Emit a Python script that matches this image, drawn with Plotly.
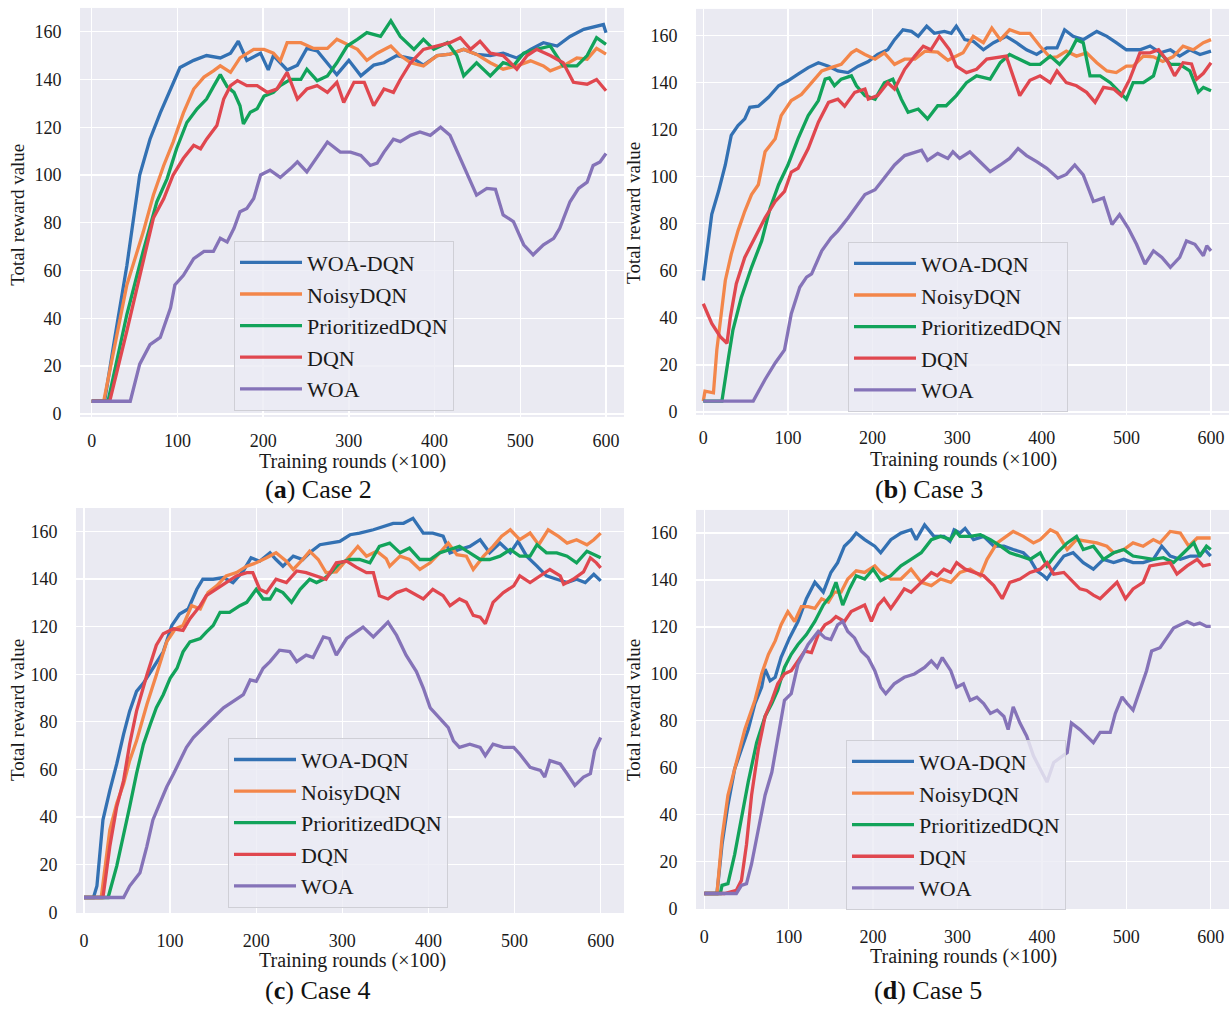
import plotly.graph_objects as go

# Reference canvas 1229x1019 (page margin removed via post_script below)
OFF = 0
W, H = 1229, 1019

SERIES = ["WOA-DQN", "NoisyDQN", "PrioritizedDQN", "DQN", "WOA"]
COLORS = ["#3371B3", "#F3864A", "#12A35A", "#E0474F", "#8573B8"]
X_TICKS = [0, 100, 200, 300, 400, 500, 600]
Y_TICKS = [0, 20, 40, 60, 80, 100, 120, 140, 160]
CAPTIONS = [("a", "Case 2"), ("b", "Case 3"), ("c", "Case 4"), ("d", "Case 5")]
X_TITLE = "Training rounds (×100)"
Y_TITLE = "Total reward value"

# ---------------- (a) Case 2 : (training round, reward) ----------------
A_WOADQN = [(0,5.3),(15,5.3),(27,32),(41,62),(56,100),(68,115),(80,126),(92,136),(103,145),(119,148),(134,150),(150,149),(162,151),(171,156),(175,153),(181,148),(197,151),(206,144),(212,150),(228,144),(240,146),(251,153),(263,152),(275,147),(286,142),(300,148),(314,141.5),(329,146),(341,147),(356,150),(376,148.5),(387,146),(403,150),(418,150.6),(434,152.6),(449,150.5),(465,150),(480,151),(496,149),(512,152.6),(527,155.4),(543,154),(558,158),(574,161),(589,162.4),(597,163),(600,159.6)]
A_NOISY = [(0,5.3),(14,5.3),(41,54),(60,76),(72,91.6),(84,104),(95,113.8),(107,126),(119,136),(131,141),(142,143.6),(150,145.7),(162,143),(173,149),(189,152.6),(201,152.6),(212,151),(220,147.8),(228,155.4),(244,155.4),(259,153),(275,153),(286,156.8),(294,155.4),(310,152.6),(321,148),(333,151),(349,154),(360,150),(372,147),(387,145.7),(403,150),(418,150.6),(434,152.6),(449,150.5),(465,147),(480,144.3),(496,145.7),(512,147.8),(527,145.7),(535,143.6),(550,145.7),(566,149),(578,148.5),(589,153),(600,150.6)]
A_PRIO = [(0,5.3),(19,5.3),(41,41.6),(60,68),(76,88.8),(88,98.5),(99,111),(111,122),(123,127.7),(134,131.8),(142,137),(150,142),(158,137),(166,134.6),(173,129),(177,121.4),(185,126.3),(193,127.7),(201,133),(212,134.6),(220,137.4),(232,140),(244,140),(251,144.3),(263,139.5),(275,141.5),(286,147),(298,154),(310,156.8),(321,159.6),(337,158),(349,164.5),(360,158),(376,152.6),(387,156.8),(399,152.6),(415,155.4),(426,150),(434,141.5),(449,147),(465,141.5),(480,147),(492,145.7),(504,151),(519,152.6),(535,154),(550,145.7),(566,145.7),(578,150),(589,157.5),(600,154.7)]
A_DQN = [(0,5.3),(21,5.3),(41,34.7),(56,58),(72,82),(84,90),(95,100),(107,107),(119,112.4),(127,111),(134,115),(146,120.7),(154,131.8),(162,137.4),(170,139.5),(181,137.4),(193,137.4),(205,134.6),(216,136),(228,143),(240,131.8),(251,136),(263,137.4),(275,134.6),(286,138.8),(294,130.4),(306,138.8),(318,138.8),(329,129),(341,136),(352,134.6),(360,140),(372,147),(387,152.6),(403,154),(418,155.4),(430,157.5),(442,152.6),(453,156),(465,151),(480,150),(496,144.3),(508,150),(519,152.6),(535,150),(550,147),(562,138.8),(578,138),(589,140),(600,135.3)]
A_WOA = [(0,5.3),(45,5.3),(56,20.8),(68,29),(80,32),(92,44.4),(97,54),(107,58),(119,65),(131,68),(142,68),(150,73.5),(158,72),(166,77.7),(173,84.6),(181,86),(189,90.2),(197,100),(208,102),(220,99),(232,102.7),(240,105.5),(251,101.3),(263,107.5),(275,113.8),(290,109.6),(302,109.6),(314,108.2),(325,104),(333,105),(341,109.6),(352,115),(360,114),(372,116.6),(383,118),(395,116.6),(407,120),(418,116.6),(430,106.9),(438,100),(449,91.6),(461,94.4),(471,94),(480,83.3),(492,80.5),(504,70.8),(515,66.6),(527,70.8),(539,73.5),(546,77.7),(558,88.8),(568,94.4),(578,97),(585,104),(593,105.5),(600,109)]

# ---------------- (b) Case 3 ----------------
B_WOADQN = [(0,55.9),(6,71.3),(10,84),(18,93.8),(26,105),(33,117.6),(41,121.8),(49,124.6),(55,129.5),(65,130),(77,133.8),(89,138.7),(100,140.8),(112,143.6),(124,146.4),(136,148.5),(148,147),(159,145),(171,144.3),(183,147),(195,149),(206,152),(218,154),(226,158.3),(236,162.5),(246,161.8),(254,159.7),(264,164),(273,161),(285,161.8),(293,161),(299,164),(309,158.3),(319,157.6),(331,154),(343,157),(358,159.7),(370,157),(382,154),(394,152),(406,154.8),(418,154.8),(427,162.5),(437,159.7),(449,158.3),(465,161.8),(477,159.7),(488,157),(500,154),(516,154),(528,155.6),(540,152.7),(552,154),(563,151.3),(575,154),(587,152),(600,153.4)]
B_NOISY = [(0,4.6),(2,8.8),(12,8.1),(16,26.4),(26,55.9),(33,67),(41,77),(49,85.3),(57,92.4),(65,96.6),(73,110.6),(85,116.2),(92,126),(104,132.4),(116,135),(128,140),(140,145),(151,146.4),(163,147.8),(175,152.7),(181,154),(191,152),(203,150),(214,152.7),(226,147.8),(238,150),(250,150),(262,153.4),(277,153),(289,149.5),(295,150.7),(307,152.7),(319,159.7),(331,157),(341,163.2),(351,158.3),(362,162.5),(374,161),(386,161),(398,155.5),(410,150.7),(418,151),(429,153.4),(441,151.3),(453,152.7),(465,148.5),(477,145),(488,144.3),(500,147),(508,147),(520,151.3),(532,151),(543,149),(555,151),(567,155.5),(579,154),(591,157),(600,158.3)]
B_PRIO = [(0,4.6),(22,4.6),(30,23.6),(35,34.8),(45,48.8),(57,61.5),(69,72.7),(79,86.7),(89,96.6),(100,105),(112,116.2),(124,126),(136,132.4),(144,141.5),(149,142),(155,138.7),(163,141.5),(175,142.9),(181,138.7),(191,134.5),(203,133),(214,140),(224,141.5),(234,133),(242,127.4),(254,128.8),(265,124.6),(277,130.2),(287,130.2),(299,134.5),(311,140),(323,142.9),(339,141.5),(351,148.5),(362,152),(374,150),(386,147.8),(398,147.8),(410,151.3),(421,147.8),(433,152.7),(441,158.3),(449,157),(457,142.9),(469,142.9),(481,140),(492,136),(500,133),(508,140),(520,140),(532,142.9),(540,152.7),(552,147.8),(563,147.8),(575,145),(585,136),(591,138),(600,136.6)]
B_DQN = [(0,46),(10,37.6),(20,32),(28,29.2),(32,40.4),(39,54.5),(49,65.7),(61,74),(73,82.5),(85,89.5),(96,93.8),(104,102),(112,103.6),(124,112),(136,123.2),(148,131.6),(159,133),(167,130),(179,135.9),(191,137.3),(195,133),(206,134.5),(218,140),(226,137.3),(238,145.7),(250,151.3),(260,155.5),(269,154),(279,159.7),(291,154),(299,147),(311,144.3),(323,145.7),(335,150),(347,150.5),(358,151.3),(366,142.9),(374,134.5),(386,141),(398,142.9),(410,140),(418,145),(429,140),(441,138.7),(453,135.9),(463,131.6),(473,138),(485,137.3),(494,134.5),(504,141.5),(516,152.7),(528,152.7),(538,154),(548,149.5),(557,142.9),(567,148.5),(577,148),(583,141.5),(591,144),(600,148.5)]
B_WOA = [(0,4.6),(59,4.6),(73,13.8),(85,20.8),(96,26.4),(104,41.8),(114,53),(122,57.3),(128,58.7),(140,68.5),(151,74),(159,77),(171,82.5),(179,86.7),(191,92.4),(203,94.5),(214,99.4),(226,105),(238,109),(250,110.6),(258,111.3),(265,107),(277,109.9),(289,107.8),(295,110.6),(303,107.8),(315,110.6),(327,106.4),(339,102.2),(351,105),(362,107.8),(372,112),(382,109),(394,106.4),(406,103.6),(419,99.4),(429,101),(439,105),(449,100.8),(455,95.2),(461,89.5),(473,91),(483,79.7),(492,83.9),(502,78.3),(512,71.3),(522,62.9),(532,68.5),(542,65.7),(552,61.5),(563,65.7),(571,72.7),(581,71.3),(591,66.4),(595,70.6),(600,68.5)]

# ---------------- (c) Case 4 ----------------
C_WOADQN = [(0,6.2),(11,6.2),(15,11),(22,38.8),(30,51.2),(38,62.3),(46,74.8),(53,84.5),(61,92.8),(69,96.3),(80,102.5),(92,109.4),(102,120.5),(111,125.3),(121,127.4),(131,135.7),(138,139.9),(150,139.9),(162,140.6),(173,138.5),(185,143.4),(194,148.9),(204,147.5),(216,151),(223,148.2),(231,145.4),(243,149.6),(254,148.2),(262,151),(274,154.4),(285,155.1),(297,155.8),(309,158.6),(320,159.3),(336,160.7),(347,162),(359,163.4),(371,163.4),(382,165.5),(394,159.3),(405,159.3),(417,158),(425,151),(436,152.4),(448,153.7),(460,156.5),(471,151),(483,155.1),(495,151),(504,155.8),(514,149.6),(526,145.4),(537,141.3),(549,139.9),(561,138.5),(572,139.9),(582,138.5),(592,142),(600,139.2)]
C_NOISY = [(0,6.2),(20,6.2),(30,34.6),(38,45.7),(46,54),(53,63.7),(61,72),(73,87.3),(84,99.7),(96,113.6),(106,119.1),(115,120.5),(125,128.8),(135,127.4),(144,134.3),(154,137.1),(165,141.3),(177,142.7),(189,145.4),(200,146.8),(212,148.9),(223,151),(235,147.5),(243,144),(254,148.2),(262,151.7),(272,148.2),(281,142.7),(293,143),(305,148.2),(318,153.7),(328,149.6),(340,151.7),(351,148.5),(355,145.4),(367,149.6),(378,148.2),(390,144),(402,146.8),(413,151),(423,155.1),(433,150.2),(444,149.6),(452,144),(464,149.6),(475,153.7),(485,158),(495,160.7),(506,156.5),(518,159.3),(528,154.4),(539,160.7),(551,157.9),(561,155.1),(572,156.5),(584,154.4),(592,156.5),(600,159.3)]
C_PRIO = [(0,6.2),(28,6.2),(38,19.4),(46,31.9),(53,44.3),(61,58.2),(69,70.6),(77,79),(84,85.9),(92,91.4),(100,98.3),(108,102.5),(115,109.4),(123,113.6),(135,115),(142,117.7),(150,120.5),(158,126),(169,126),(181,128.8),(189,130.2),(200,135.7),(208,131.6),(216,131.6),(223,135.7),(231,134.3),(241,130.2),(251,135.7),(262,139.9),(270,138.5),(278,139.9),(285,142),(297,146.8),(309,148.2),(320,148.2),(332,146.8),(343,153.7),(355,155.1),(367,151),(378,153),(390,148.2),(402,148.2),(413,151),(425,152.4),(436,153.7),(448,151),(460,148.2),(471,148.2),(483,149.6),(495,152.4),(506,149.6),(518,149.6),(526,154.4),(537,151),(549,151),(561,149.6),(572,146.8),(584,151.7),(592,150.2),(600,148.9)]
C_DQN = [(0,6.2),(22,6.2),(30,27.7),(38,44.3),(46,55.4),(53,70.6),(61,84.5),(73,99.7),(84,112.2),(92,117),(104,119.1),(115,118.4),(123,123.3),(135,128.8),(142,133),(154,135.7),(165,138.5),(177,141.3),(189,142.7),(196,142.7),(204,135.7),(212,134.3),(223,139.9),(235,138.5),(247,143.4),(258,142.7),(270,141.3),(281,139.9),(293,146.8),(305,147.5),(316,145),(328,142.7),(336,142.7),(343,133),(353,131.6),(363,134.3),(374,135.7),(386,133),(394,131.6),(405,135.7),(417,133),(425,128.8),(436,131.6),(444,130.2),(452,124.7),(460,124),(466,121.2),(475,130.2),(487,134.3),(499,137.1),(506,141.3),(518,138.5),(530,141.3),(541,144),(553,141.3),(557,137.8),(568,139.9),(580,143),(588,148.9),(595,146.8),(600,144.7)]
C_WOA = [(0,6.2),(46,6.2),(53,11),(65,16.6),(73,27.7),(80,38.8),(88,45.7),(96,52.6),(104,58.2),(111,63.7),(119,69.3),(127,73.4),(138,77.6),(150,81.7),(162,85.9),(173,88.6),(185,91.4),(193,97.6),(200,97),(208,102.5),(216,105.3),(227,110.1),(239,109.5),(247,105.3),(258,108),(266,107),(278,115.7),(285,115),(293,108),(305,115),(316,117.7),(324,119.8),(336,115.7),(343,118.4),(353,121.9),(363,116.3),(374,108),(386,101.1),(394,94.2),(402,85.9),(413,81.7),(423,77.6),(429,72),(436,69.3),(448,70.6),(460,69.3),(466,65.8),(475,70.6),(487,69.3),(499,69.3),(506,66.5),(518,60.9),(530,59.6),(535,56.8),(541,63.7),(553,62.3),(561,58.2),(570,53.3),(580,56.8),(588,58.2),(593,67.9),(600,73.4)]

# ---------------- (d) Case 5 ----------------
D_WOADQN = [(0,6.3),(15,6.3),(21,27.2),(28,44),(36,59.4),(44,67.8),(52,76.2),(60,87.3),(68,94.3),(72,102),(78,97),(84,98.5),(91,107),(101,115.3),(111,122.3),(121,132),(131,139),(141,134.8),(150,143.2),(158,147.4),(166,154.4),(174,157.2),(180,160),(190,157.2),(202,154.4),(209,151.6),(221,157.2),(233,160),(245,161.4),(251,157.2),(261,163.5),(272,158.6),(284,158.6),(291,156.5),(296,161.4),(303,160),(309,162),(319,157.2),(331,158.6),(343,154.4),(355,154.4),(366,153),(378,151.6),(386,148.8),(394,143.9),(402,141.8),(406,140.4),(414,144.6),(426,150.2),(437,151.6),(449,147.4),(461,144.6),(473,148.8),(485,147.4),(497,148.8),(508,147.4),(520,147.4),(532,148.8),(542,154.4),(552,150.2),(564,148.8),(576,150.2),(587,150.2),(593,153),(600,150.2)]
D_NOISY = [(0,6.3),(15,6.3),(21,30),(28,48.2),(38,62.2),(48,76.2),(60,88.7),(68,100),(76,108.3),(84,114),(91,120.9),(99,126.5),(107,122.3),(115,128.6),(123,128.6),(131,127.9),(139,132),(147,130.6),(154,134.8),(162,134.8),(170,140.4),(180,143.9),(190,143.2),(202,146),(209,143.2),(221,140.4),(233,140.4),(245,144.6),(257,139),(269,137.6),(280,140.4),(292,139),(303,143.2),(315,144.6),(327,141.8),(335,148.8),(347,155.8),(358,158.6),(366,160.7),(378,158.6),(390,155.8),(398,157.2),(410,161.4),(418,160),(430,153),(441,157.2),(453,156.5),(465,155.8),(477,154.4),(485,151.6),(497,153),(508,155.8),(520,154.4),(532,157.2),(540,155.8),(552,160.7),(564,160),(574,154.4),(584,157.9),(591,157.9),(600,157.9)]
D_PRIO = [(0,6.3),(19,6.3),(21,9.8),(28,10.5),(36,23),(44,38.4),(52,53.8),(62,70.6),(72,81.8),(80,87.3),(87,93),(95,102.7),(103,108.3),(111,112.5),(121,116.7),(131,122.3),(141,129.3),(150,133.5),(156,139),(164,129.3),(172,136.2),(180,141.8),(190,140.4),(200,144.6),(209,139.7),(221,141.8),(233,146),(245,148.8),(257,151.6),(269,157.2),(280,158.6),(292,157.2),(298,160.7),(303,158.6),(315,158.6),(327,159.3),(339,157.2),(351,154.4),(362,151.6),(374,150.2),(386,148.8),(398,151.6),(406,146),(418,151.6),(430,155.8),(441,158.6),(449,153),(461,154.4),(473,148.8),(485,151.6),(497,153),(508,150.2),(520,149.5),(532,148.8),(544,149.5),(556,147.4),(568,151.6),(580,155.8),(587,150.2),(595,154.4),(600,153)]
D_DQN = [(0,6.3),(24,6.3),(38,7.7),(44,11.9),(50,27.2),(56,48.2),(64,67.8),(72,81.8),(80,88.7),(87,95.7),(95,100),(103,101.3),(111,105.5),(119,109.7),(127,109),(135,116.7),(143,120.9),(150,122.3),(156,124.4),(166,122.3),(174,126.5),(182,127.9),(190,129.3),(198,122.3),(206,129.3),(213,132),(221,127.9),(229,132),(237,136.2),(245,134.8),(253,137.6),(261,140.4),(269,143.2),(276,141.8),(284,144.6),(292,143.2),(299,147.4),(309,144.6),(319,143.2),(331,141.8),(343,137.6),(353,132),(362,139),(374,140.4),(386,143.2),(398,144.6),(406,147.4),(414,142.5),(426,143.2),(437,139),(445,136.2),(453,135.5),(461,133.5),(469,132),(477,134.8),(489,139),(499,132),(508,136.2),(520,139),(528,146),(540,146.7),(552,147.4),(560,142.5),(572,146),(584,148.8),(591,146),(600,146.7)]
D_WOA = [(0,6.3),(38,6.3),(44,9.8),(50,10.5),(56,18.9),(64,34.2),(72,48.2),(80,58),(87,72),(95,88.7),(103,91.5),(111,104.1),(123,112.5),(135,118),(143,115.3),(150,114.6),(158,120.9),(164,122.3),(170,118),(178,115.3),(186,109.7),(194,106.9),(202,101.3),(209,94.3),(215,91.5),(225,95.7),(237,98.5),(249,99.9),(261,102.7),(269,105.5),(276,102.7),(282,106.9),(292,101.3),(299,94.3),(307,95.7),(315,88.7),(323,90),(331,87.3),(339,83.1),(347,84.5),(355,81.8),(360,76.2),(366,85.9),(374,79),(382,73.4),(390,65),(398,59.4),(406,53.8),(414,62.2),(422,64.5),(430,66.4),(435,79),(445,76.2),(453,73.4),(461,70.6),(469,75),(481,75),(487,83.1),(495,90.1),(501,87.3),(508,84.5),(516,92.9),(524,101.3),(530,109.7),(540,111.1),(548,115.3),(556,119.5),(564,120.9),(572,122.3),(580,120.9),(587,121.6),(595,120.2),(600,120.2)]

PANEL_DATA = [
    [A_WOADQN, A_NOISY, A_PRIO, A_DQN, A_WOA],
    [B_WOADQN, B_NOISY, B_PRIO, B_DQN, B_WOA],
    [C_WOADQN, C_NOISY, C_PRIO, C_DQN, C_WOA],
    [D_WOADQN, D_NOISY, D_PRIO, D_DQN, D_WOA],
]

# ---------------- layout geometry (reference pixels) ----------------
# box: plot-area edges; gx: pixel of x=0 and x=600; gy: pixel of y=0 and y=160
GEOM = [
    dict(box=(80, 624, 8, 421), gx=(91.7, 606), gy=(418, 32), leg=(234, 243),
         ytl=(18, 217), xtl=(352, 466), cap=(318, 494), xtick=8),
    dict(box=(696, 1229, 9, 419), gx=(703.3, 1211), gy=(416, 36), leg=(848, 244),
         ytl=(634, 215), xtl=(963, 464), cap=(929, 494), xtick=7),
    dict(box=(76, 624, 513, 922), gx=(84, 600.7), gy=(921.7, 536.7), leg=(228, 745),
         ytl=(18, 717), xtl=(352, 970), cap=(317, 1000), xtick=11),
    dict(box=(696, 1229, 515, 918), gx=(704.3, 1210.7), gy=(920, 538.5), leg=(846, 747),
         ytl=(634, 717), xtl=(963, 966), cap=(928, 1000), xtick=11),
]

X_MAX_PX, Y_MIN_PX, Y_MAX_PX = OFF + W, OFF, OFF + H


def px(x):
    return (x - OFF) / W


def py(y):
    return 1 - (y - OFF) / H


FONT = "Liberation Serif, Times New Roman, serif"
TXT = "#1a1a1a"

fig = go.Figure()
annotations = []
layout = dict(
    width=W, height=H,
    margin=dict(l=0, r=0, t=0, b=0),
    paper_bgcolor="white",
    plot_bgcolor="#EAEAF2",
    font=dict(family=FONT, color=TXT),
)

for i, (series_list, g) in enumerate(zip(PANEL_DATA, GEOM)):
    sfx = "" if i == 0 else str(i + 1)
    leg_name = "legend" + sfx
    for j, pts in enumerate(series_list):
        fig.add_trace(go.Scatter(
            x=[p[0] for p in pts], y=[p[1] for p in pts],
            mode="lines", name=SERIES[j],
            line=dict(color=COLORS[j], width=3.3),
            xaxis="x" + sfx, yaxis="y" + sfx,
            legend=leg_name, legendgroup=f"p{i}s{j}", showlegend=True,
        ))
    l, r, t, b = g["box"]
    r = min(r, X_MAX_PX)
    t = max(t, Y_MIN_PX)
    b = min(b, Y_MAX_PX)
    x0p, x600p = g["gx"]
    sx = (x600p - x0p) / 600.0
    xr = [(l - x0p) / sx, (r - x0p) / sx]
    y0p, y160p = g["gy"]
    sy = (y0p - y160p) / 160.0
    yr = [min((y0p - b) / sy, -0.3), (y0p - t) / sy]
    layout["xaxis" + sfx] = dict(
        domain=[px(l), px(r)], range=xr, anchor="y" + sfx,
        tickmode="array", tickvals=X_TICKS, ticktext=[str(v) for v in X_TICKS],
        showgrid=True, gridcolor="white", gridwidth=1.3, zeroline=False,
        showline=False, ticks="outside", ticklen=g["xtick"], tickcolor="rgba(0,0,0,0)",
        tickfont=dict(family=FONT, size=18, color=TXT), ticklabeloverflow="allow",
    )
    layout["yaxis" + sfx] = dict(
        domain=[py(b), py(t)], range=yr, anchor="x" + sfx,
        tickmode="array", tickvals=Y_TICKS, ticktext=[str(v) for v in Y_TICKS],
        showgrid=True, gridcolor="white", gridwidth=1.3, zeroline=False,
        showline=False, ticks="outside", ticklen=14, tickcolor="rgba(0,0,0,0)",
        tickfont=dict(family=FONT, size=18, color=TXT), ticklabeloverflow="allow",
    )
    lx, ly = g["leg"]
    layout[leg_name] = dict(
        x=px(lx), y=py(ly), xanchor="left", yanchor="top",
        bgcolor="rgba(236,236,244,0.82)", bordercolor="#CFCFD6", borderwidth=1,
        font=dict(family=FONT, size=22, color=TXT),
        itemwidth=62, tracegroupgap=3, traceorder="normal",
    )
    yx, yy = g["ytl"]
    annotations.append(dict(text=Y_TITLE, x=px(yx), y=py(yy), xref="paper", yref="paper",
                            showarrow=False, textangle=-90, xanchor="center", yanchor="middle",
                            font=dict(family=FONT, size=19, color=TXT)))
    xx, xy = g["xtl"]
    annotations.append(dict(text=X_TITLE, x=px(xx), y=py(xy), xref="paper", yref="paper",
                            showarrow=False, xanchor="center", yanchor="middle",
                            font=dict(family=FONT, size=20, color=TXT)))
    cx, cy = g["cap"]
    letter, case = CAPTIONS[i]
    annotations.append(dict(text=f"(<b>{letter}</b>) {case}", x=px(cx), y=py(cy),
                            xref="paper", yref="paper", showarrow=False,
                            xanchor="center", yanchor="middle",
                            font=dict(family=FONT, size=26, color="#111111")))

layout["annotations"] = annotations
fig.update_layout(**layout)
fig.write_html(
    "out.html",
    config={"displayModeBar": False, "staticPlot": True},
    post_script="document.body.style.margin='0';document.body.style.overflow='hidden';",
)
